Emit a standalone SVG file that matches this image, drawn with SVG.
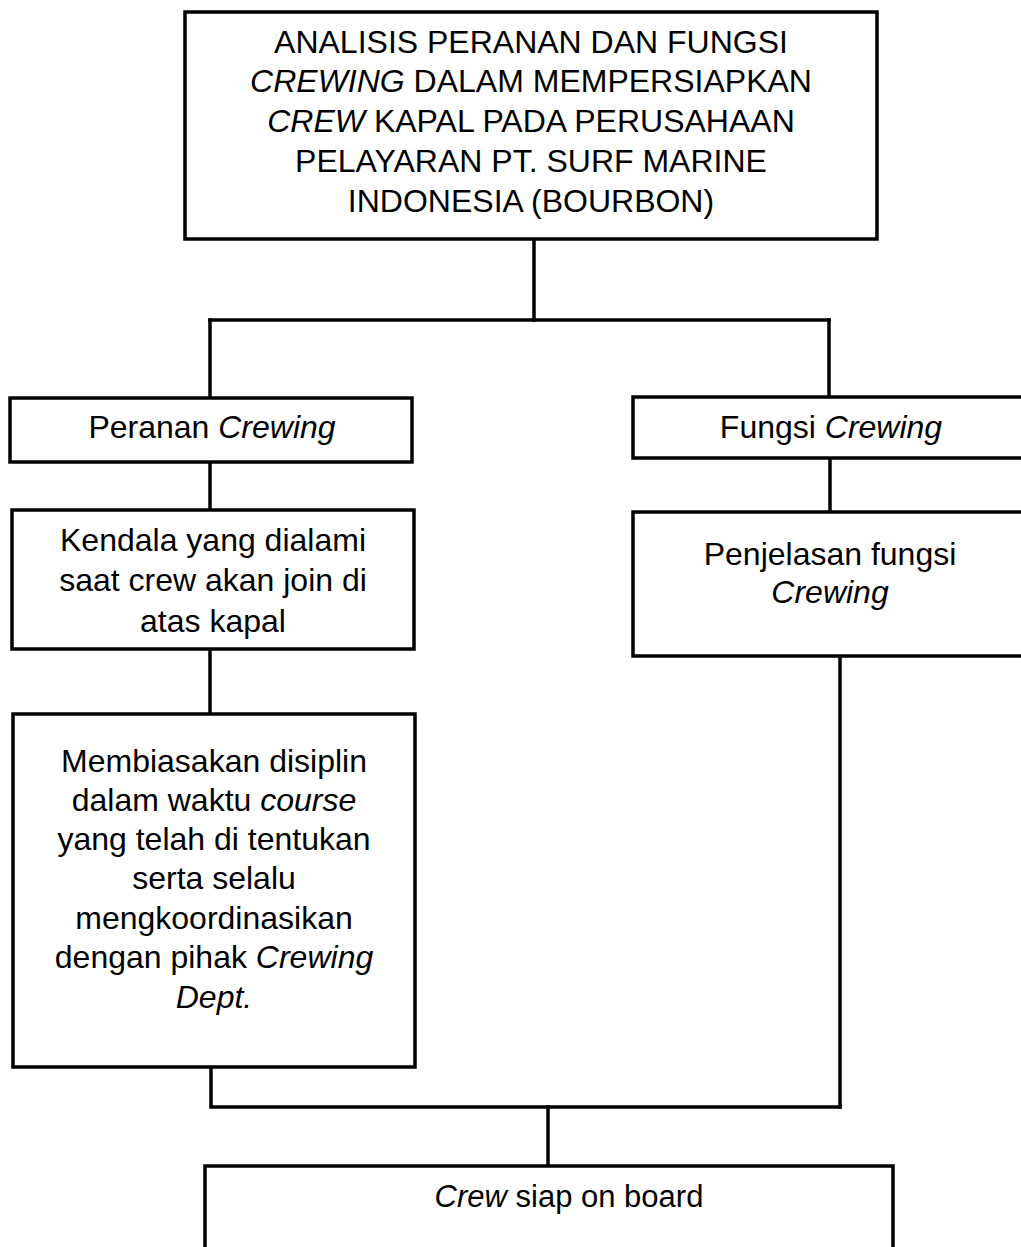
<svg xmlns="http://www.w3.org/2000/svg" width="1021" height="1247" viewBox="0 0 1021 1247">
<style>
.box{fill:#fff;stroke:#000;stroke-width:3.5}
.ln{fill:none;stroke:#000;stroke-width:3.5;stroke-linecap:square}
text{font-family:"Liberation Sans",Arial,sans-serif;font-size:32px;fill:#000;text-anchor:middle}
.i{font-style:italic}
</style>
<rect width="1021" height="1247" fill="#fff"/>
<g id="connectors">
<path class="ln" d="M534,239 V320"/>
<path class="ln" d="M210,320 H829"/>
<path class="ln" d="M210,320 V398"/>
<path class="ln" d="M829,320 V397"/>
<path class="ln" d="M210,462 V510"/>
<path class="ln" d="M210,649 V714"/>
<path class="ln" d="M830,458 V512"/>
<path class="ln" d="M840,656 V1107"/>
<path class="ln" d="M211,1061 V1107 H840"/>
<path class="ln" d="M548,1107 V1166"/>
</g>
<g id="title">
<rect class="box" x="185" y="12" width="692" height="227"/>
<text x="531" y="53">ANALISIS PERANAN DAN FUNGSI</text>
<text x="531" y="92"><tspan class="i">CREWING</tspan> DALAM MEMPERSIAPKAN</text>
<text x="531" y="132"><tspan class="i">CREW</tspan> KAPAL PADA PERUSAHAAN</text>
<text x="531" y="172">PELAYARAN PT. SURF MARINE</text>
<text x="531" y="212">INDONESIA (BOURBON)</text>
</g>
<g id="peranan">
<rect class="box" x="10" y="398" width="402" height="64"/>
<text x="212" y="438">Peranan <tspan class="i">Crewing</tspan></text>
</g>
<g id="fungsi">
<rect class="box" x="633" y="397" width="400" height="61"/>
<text x="831" y="438">Fungsi <tspan class="i">Crewing</tspan></text>
</g>
<g id="kendala">
<rect class="box" x="12" y="510" width="402" height="139"/>
<text x="213" y="551">Kendala yang dialami</text>
<text x="213" y="591">saat crew akan join di</text>
<text x="213" y="632">atas kapal</text>
</g>
<g id="penjelasan">
<rect class="box" x="633" y="512" width="400" height="144"/>
<text x="830" y="565">Penjelasan fungsi</text>
<text x="830" y="603" class="i">Crewing</text>
</g>
<g id="membiasakan">
<rect class="box" x="13" y="714" width="402" height="353"/>
<text x="214" y="772">Membiasakan disiplin</text>
<text x="214" y="811">dalam waktu <tspan class="i">course</tspan></text>
<text x="214" y="850">yang telah di tentukan</text>
<text x="214" y="889">serta selalu</text>
<text x="214" y="929">mengkoordinasikan</text>
<text x="214" y="968">dengan pihak <tspan class="i">Crewing</tspan></text>
<text x="214" y="1008" class="i">Dept.</text>
</g>
<g id="siap">
<rect class="box" x="205" y="1166" width="688" height="120"/>
<text x="569" y="1207" style="font-size:31px"><tspan class="i">Crew</tspan> siap on board</text>
</g>
</svg>
